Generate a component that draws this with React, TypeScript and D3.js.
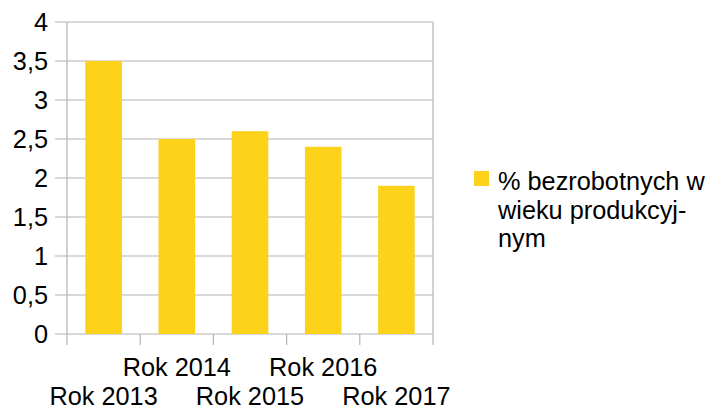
import * as d3 from 'd3';
import React, { useEffect, useRef } from 'react';

const categories = ['Rok 2013', 'Rok 2014', 'Rok 2015', 'Rok 2016', 'Rok 2017'];
const values = [3.5, 2.5, 2.6, 2.4, 1.9];
const yTicks = [0, 0.5, 1, 1.5, 2, 2.5, 3, 3.5, 4];
const legendLines = ['% bezrobotnych w', 'wieku produkcyj-', 'nym'];

const BarChart = () => {
    const ref = useRef<SVGSVGElement>(null);

    useEffect(() => {
        const width = 713;
        const height = 410;
        const left = 67;
        const right = 433;
        const top = 22;
        const bottom = 334;
        const fontSize = 25.3;
        const font = '"Liberation Sans", Arial, sans-serif';
        const grid = '#b3b3b3';
        const yellow = '#fdd21b';

        const svg = d3.select(ref.current);
        svg.selectAll('*').remove();
        svg.attr('width', width).attr('height', height);

        const x = d3.scaleBand<string>()
            .domain(categories)
            .range([left, right])
            .paddingInner(0.5)
            .paddingOuter(0.25);

        const y = d3.scaleLinear().domain([0, 4]).range([bottom, top]);

        // gridlines + y labels
        yTicks.forEach(t => {
            svg.append('line')
                .attr('x1', left - 12).attr('x2', right)
                .attr('y1', y(t)).attr('y2', y(t))
                .attr('stroke', grid).attr('stroke-width', 1.2);
            svg.append('text')
                .attr('x', 48).attr('y', y(t))
                .attr('dy', '0.35em')
                .attr('text-anchor', 'end')
                .attr('font-family', font).attr('font-size', fontSize)
                .attr('fill', '#000')
                .text(String(t).replace('.', ','));
        });

        // vertical borders and category ticks
        const step = x.step();
        d3.range(categories.length + 1).forEach(i => {
            const xx = left + i * step;
            const isEdge = i === 0 || i === categories.length;
            svg.append('line')
                .attr('x1', xx).attr('x2', xx)
                .attr('y1', isEdge ? top : bottom).attr('y2', bottom + 11)
                .attr('stroke', grid).attr('stroke-width', 1.2);
        });

        // bars
        categories.forEach((c, i) => {
            svg.append('rect')
                .attr('x', x(c)!)
                .attr('y', y(values[i]))
                .attr('width', x.bandwidth())
                .attr('height', y(0) - y(values[i]))
                .attr('fill', yellow);
        });

        // staggered category labels
        categories.forEach((c, i) => {
            svg.append('text')
                .attr('x', x(c)! + x.bandwidth() / 2)
                .attr('y', i % 2 === 0 ? 405 : 376)
                .attr('text-anchor', 'middle')
                .attr('font-family', font).attr('font-size', fontSize)
                .attr('fill', '#000')
                .text(c);
        });

        // legend
        svg.append('rect')
            .attr('x', 474).attr('y', 171)
            .attr('width', 15).attr('height', 15)
            .attr('fill', yellow);
        legendLines.forEach((l, i) => {
            svg.append('text')
                .attr('x', 498).attr('y', 190 + i * 28.5)
                .attr('font-family', font).attr('font-size', fontSize)
                .attr('fill', '#000')
                .text(l);
        });
    }, []);

    return <svg ref={ref} style={{ position: 'absolute', left: 0, top: 0 }}></svg>;
};

export default function App() {
    return <BarChart />;
}
